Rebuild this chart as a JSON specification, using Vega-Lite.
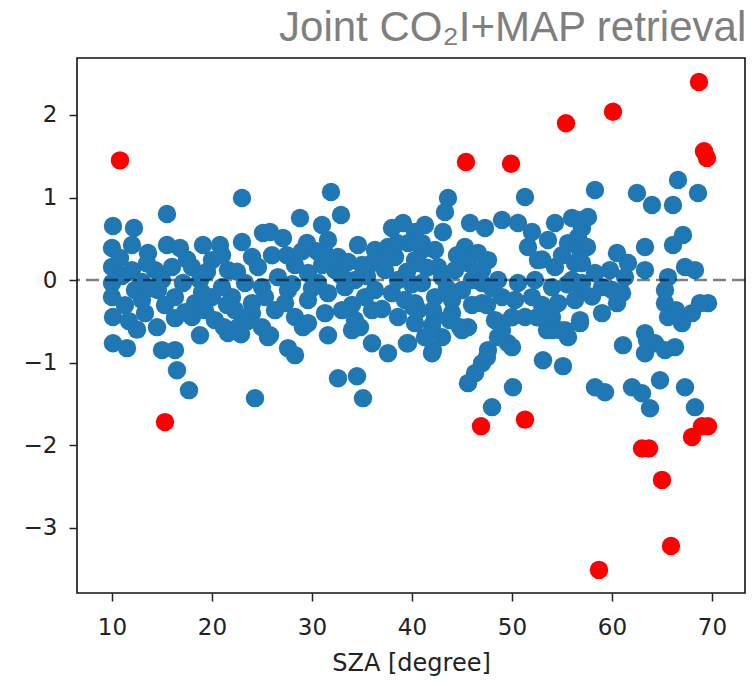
{
  "$schema": "https://vega.github.io/schema/vega-lite/v6.json",
  "width": 668,
  "height": 535,
  "autosize": {"type": "none"},
  "padding": {"left": 77, "top": 58, "right": 8, "bottom": 89},
  "background": "white",
  "title": {"text": "Joint CO₂I+MAP retrieval", "anchor": "end", "font": "Liberation Sans", "fontSize": 42, "fontWeight": "normal", "color": "#7f7f7f", "offset": 8},
  "config": {
    "view": {"stroke": "#111", "strokeWidth": 1.6},
    "axis": {"grid": false, "domain": false, "tickColor": "#222", "tickWidth": 1.5, "tickSize": 8, "labelFont": "DejaVu Sans", "labelFontSize": 23, "labelColor": "#222", "titleFont": "DejaVu Sans", "titleFontSize": 24, "titleFontWeight": "normal", "titleColor": "#222"}
  },
  "datasets": {
    "blue": [
      {"sza":10.1,"delta":0.655},{"sza":12.2,"delta":0.630},{"sza":15.5,"delta":0.800},{"sza":23.0,"delta":0.994},{"sza":25.1,"delta":0.570},
      {"sza":10.0,"delta":0.388},{"sza":12.0,"delta":0.424},{"sza":13.6,"delta":0.327},{"sza":15.5,"delta":0.424},{"sza":16.8,"delta":0.388},
      {"sza":19.1,"delta":0.424},{"sza":20.8,"delta":0.424},{"sza":23.0,"delta":0.461},{"sza":24.0,"delta":0.279},{"sza":10.0,"delta":0.158},
      {"sza":10.0,"delta":-0.036},{"sza":12.0,"delta":0.121},{"sza":12.3,"delta":-0.121},{"sza":14.3,"delta":0.121},{"sza":16.0,"delta":0.158},
      {"sza":18.0,"delta":0.158},{"sza":20.0,"delta":0.242},{"sza":21.6,"delta":0.121},{"sza":23.3,"delta":-0.036},{"sza":25.0,"delta":-0.085},
      {"sza":14.6,"delta":-0.121},{"sza":10.0,"delta":-0.206},{"sza":13.0,"delta":-0.242},{"sza":16.3,"delta":-0.206},{"sza":18.3,"delta":-0.279},
      {"sza":20.0,"delta":-0.206},{"sza":22.0,"delta":-0.206},{"sza":24.0,"delta":-0.279},{"sza":10.1,"delta":-0.448},{"sza":11.7,"delta":-0.497},
      {"sza":13.3,"delta":-0.400},{"sza":14.5,"delta":-0.570},{"sza":16.3,"delta":-0.461},{"sza":18.0,"delta":-0.448},{"sza":20.3,"delta":-0.485},
      {"sza":21.2,"delta":-0.570},{"sza":22.6,"delta":-0.570},{"sza":24.0,"delta":-0.400},{"sza":25.0,"delta":-0.570},{"sza":21.6,"delta":-0.642},
      {"sza":22.9,"delta":-0.655},{"sza":18.8,"delta":-0.667},{"sza":10.1,"delta":-0.764},{"sza":11.5,"delta":-0.824},{"sza":15.0,"delta":-0.848},
      {"sza":16.3,"delta":-0.848},{"sza":16.5,"delta":-1.091},{"sza":17.7,"delta":-1.333},{"sza":24.3,"delta":-1.430},{"sza":25.8,"delta":-0.667},
      {"sza":10.8,"delta":0.267},{"sza":13.0,"delta":-0.024},{"sza":17.1,"delta":-0.036},{"sza":18.8,"delta":0.0},{"sza":21.0,"delta":-0.085},
      {"sza":11.3,"delta":-0.303},{"sza":15.3,"delta":-0.303},{"sza":17.3,"delta":-0.388},{"sza":19.3,"delta":-0.364},{"sza":22.3,"delta":-0.364},
      {"sza":31.9,"delta":1.067},{"sza":32.9,"delta":0.788},{"sza":28.8,"delta":0.752},{"sza":31.0,"delta":0.667},{"sza":25.8,"delta":0.582},
      {"sza":27.1,"delta":0.509},{"sza":34.6,"delta":0.424},{"sza":38.0,"delta":0.630},{"sza":39.1,"delta":0.691},{"sza":40.3,"delta":0.582},
      {"sza":31.6,"delta":0.485},{"sza":31.3,"delta":0.327},{"sza":32.6,"delta":0.279},{"sza":36.3,"delta":0.364},{"sza":37.6,"delta":0.400},
      {"sza":39.6,"delta":0.448},{"sza":41.0,"delta":0.364},{"sza":36.0,"delta":0.206},{"sza":38.3,"delta":0.279},{"sza":40.3,"delta":0.242},
      {"sza":24.6,"delta":0.158},{"sza":28.3,"delta":0.182},{"sza":26.6,"delta":0.036},{"sza":29.6,"delta":0.085},{"sza":32.3,"delta":0.121},
      {"sza":34.3,"delta":0.0},{"sza":37.3,"delta":0.121},{"sza":25.3,"delta":-0.206},{"sza":27.6,"delta":-0.121},{"sza":29.6,"delta":-0.242},
      {"sza":31.6,"delta":-0.158},{"sza":33.3,"delta":-0.085},{"sza":35.3,"delta":-0.206},{"sza":36.3,"delta":-0.121},{"sza":38.0,"delta":-0.158},
      {"sza":40.3,"delta":-0.279},{"sza":26.3,"delta":-0.364},{"sza":28.3,"delta":-0.448},{"sza":29.6,"delta":-0.521},{"sza":31.3,"delta":-0.400},
      {"sza":33.0,"delta":-0.364},{"sza":34.3,"delta":-0.485},{"sza":36.0,"delta":-0.364},{"sza":38.6,"delta":-0.448},{"sza":40.3,"delta":-0.521},
      {"sza":25.6,"delta":-0.691},{"sza":31.6,"delta":-0.667},{"sza":34.0,"delta":-0.606},{"sza":36.0,"delta":-0.764},{"sza":37.6,"delta":-0.885},
      {"sza":39.6,"delta":-0.764},{"sza":27.6,"delta":-0.824},{"sza":28.3,"delta":-0.909},{"sza":32.6,"delta":-1.188},{"sza":34.5,"delta":-1.164},
      {"sza":35.1,"delta":-1.430},{"sza":29.1,"delta":-0.570},{"sza":34.8,"delta":-0.570},{"sza":30.6,"delta":-0.036},{"sza":27.3,"delta":-0.279},
      {"sza":38.6,"delta":0.0},{"sza":39.3,"delta":-0.242},{"sza":35.0,"delta":0.182},{"sza":33.6,"delta":0.218},{"sza":31.0,"delta":0.182},
      {"sza":43.6,"delta":0.994},{"sza":43.3,"delta":0.824},{"sza":51.3,"delta":1.006},{"sza":41.3,"delta":0.667},{"sza":43.1,"delta":0.582},
      {"sza":45.8,"delta":0.691},{"sza":47.3,"delta":0.630},{"sza":49.0,"delta":0.727},{"sza":50.6,"delta":0.691},{"sza":52.0,"delta":0.582},
      {"sza":54.3,"delta":0.691},{"sza":56.0,"delta":0.752},{"sza":57.0,"delta":0.630},{"sza":41.0,"delta":0.448},{"sza":42.3,"delta":0.364},
      {"sza":45.3,"delta":0.400},{"sza":46.6,"delta":0.327},{"sza":51.6,"delta":0.400},{"sza":53.6,"delta":0.485},{"sza":55.6,"delta":0.448},
      {"sza":40.6,"delta":0.206},{"sza":42.6,"delta":0.158},{"sza":44.3,"delta":0.121},{"sza":45.6,"delta":0.206},{"sza":47.0,"delta":0.121},
      {"sza":47.6,"delta":0.242},{"sza":52.6,"delta":0.242},{"sza":54.3,"delta":0.158},{"sza":56.3,"delta":0.206},{"sza":41.0,"delta":-0.036},
      {"sza":43.0,"delta":0.036},{"sza":45.0,"delta":-0.121},{"sza":47.0,"delta":-0.036},{"sza":48.6,"delta":0.0},{"sza":50.6,"delta":-0.036},
      {"sza":52.3,"delta":0.0},{"sza":54.0,"delta":-0.085},{"sza":56.0,"delta":0.0},{"sza":57.0,"delta":-0.121},{"sza":42.3,"delta":-0.206},
      {"sza":44.0,"delta":-0.242},{"sza":47.0,"delta":-0.279},{"sza":49.0,"delta":-0.206},{"sza":50.3,"delta":-0.242},{"sza":52.0,"delta":-0.206},
      {"sza":54.6,"delta":-0.279},{"sza":56.3,"delta":-0.242},{"sza":40.6,"delta":-0.364},{"sza":42.3,"delta":-0.448},{"sza":44.0,"delta":-0.400},
      {"sza":45.6,"delta":-0.570},{"sza":48.3,"delta":-0.485},{"sza":51.3,"delta":-0.448},{"sza":54.0,"delta":-0.448},{"sza":55.3,"delta":-0.606},
      {"sza":56.8,"delta":-0.485},{"sza":41.3,"delta":-0.691},{"sza":43.0,"delta":-0.691},{"sza":45.0,"delta":-0.606},{"sza":49.0,"delta":-0.606},
      {"sza":49.6,"delta":-0.764},{"sza":54.0,"delta":-0.606},{"sza":55.6,"delta":-0.691},{"sza":42.0,"delta":-0.885},{"sza":47.6,"delta":-0.848},
      {"sza":47.0,"delta":-1.006},{"sza":46.3,"delta":-1.127},{"sza":45.6,"delta":-1.248},{"sza":48.6,"delta":-0.691},{"sza":50.0,"delta":-0.812},
      {"sza":53.1,"delta":-0.970},{"sza":55.1,"delta":-1.042},{"sza":50.1,"delta":-1.297},{"sza":48.0,"delta":-1.539},{"sza":40.1,"delta":-0.327},
      {"sza":42.1,"delta":-0.364},{"sza":43.8,"delta":-0.485},{"sza":44.8,"delta":-0.570},{"sza":39.5,"delta":-0.764},{"sza":42.1,"delta":-0.848},
      {"sza":47.5,"delta":-0.303},{"sza":48.8,"delta":-0.521},{"sza":47.5,"delta":-0.933},{"sza":53.5,"delta":-0.606},{"sza":54.8,"delta":-0.606},
      {"sza":56.8,"delta":-0.521},{"sza":59.0,"delta":-0.400},{"sza":60.5,"delta":-0.279},{"sza":58.3,"delta":1.091},{"sza":62.5,"delta":1.055},
      {"sza":64.0,"delta":0.909},{"sza":66.6,"delta":1.212},{"sza":68.6,"delta":1.055},{"sza":66.1,"delta":0.909},{"sza":57.6,"delta":0.764},
      {"sza":56.6,"delta":0.727},{"sza":67.1,"delta":0.545},{"sza":66.1,"delta":0.424},{"sza":63.3,"delta":0.400},{"sza":56.6,"delta":0.521},
      {"sza":56.8,"delta":0.364},{"sza":60.5,"delta":0.327},{"sza":61.6,"delta":0.206},{"sza":61.3,"delta":0.036},{"sza":61.0,"delta":-0.158},
      {"sza":63.3,"delta":0.121},{"sza":57.0,"delta":0.206},{"sza":58.3,"delta":0.085},{"sza":59.0,"delta":-0.085},{"sza":57.0,"delta":-0.036},
      {"sza":65.6,"delta":0.036},{"sza":67.3,"delta":0.158},{"sza":68.3,"delta":0.121},{"sza":65.3,"delta":-0.121},{"sza":65.3,"delta":-0.279},
      {"sza":65.6,"delta":-0.448},{"sza":67.0,"delta":-0.521},{"sza":68.0,"delta":-0.400},{"sza":69.6,"delta":-0.279},{"sza":68.8,"delta":-0.279},
      {"sza":66.4,"delta":-0.364},{"sza":63.3,"delta":-0.642},{"sza":64.3,"delta":-0.764},{"sza":63.3,"delta":-0.885},{"sza":65.3,"delta":-0.848},
      {"sza":66.3,"delta":-0.812},{"sza":61.1,"delta":-0.788},{"sza":58.3,"delta":-1.297},{"sza":59.3,"delta":-1.358},{"sza":62.0,"delta":-1.297},
      {"sza":63.0,"delta":-1.370},{"sza":63.8,"delta":-1.552},{"sza":64.8,"delta":-1.212},{"sza":67.3,"delta":-1.297},{"sza":68.3,"delta":-1.539},
      {"sza":63.5,"delta":-0.727},{"sza":59.8,"delta":0.121},{"sza":60.0,"delta":-0.121},
      {"sza":11.0,"delta":0.05},{"sza":13.5,"delta":0.2},{"sza":14.0,"delta":-0.1},{"sza":15.0,"delta":0.0},{"sza":17.5,"delta":0.25},
      {"sza":19.5,"delta":0.1},{"sza":21.0,"delta":0.3},{"sza":22.5,"delta":0.1},{"sza":19.0,"delta":-0.15},{"sza":21.5,"delta":-0.3},
      {"sza":23.5,"delta":-0.5},{"sza":12.5,"delta":-0.6},{"sza":26.0,"delta":0.3},{"sza":27.5,"delta":0.3},{"sza":29.0,"delta":0.35},
      {"sza":28.0,"delta":-0.05},{"sza":30.0,"delta":-0.1},{"sza":29.5,"delta":0.45},{"sza":30.5,"delta":0.35},{"sza":33.0,"delta":0.05},
      {"sza":34.0,"delta":-0.3},{"sza":35.5,"delta":0.05},{"sza":37.0,"delta":-0.35},{"sza":37.5,"delta":0.3},{"sza":38.5,"delta":0.45},
      {"sza":39.5,"delta":0.1},{"sza":40.0,"delta":-0.05},{"sza":40.5,"delta":0.45},{"sza":41.5,"delta":0.15},{"sza":42.0,"delta":-0.55},
      {"sza":43.5,"delta":-0.1},{"sza":44.5,"delta":0.3},{"sza":46.0,"delta":0.0},{"sza":46.0,"delta":-0.3},{"sza":48.0,"delta":-0.1},
      {"sza":50.0,"delta":-0.45},{"sza":52.5,"delta":-0.45},{"sza":53.0,"delta":0.25},{"sza":53.0,"delta":-0.3},{"sza":55.0,"delta":0.3},
      {"sza":55.5,"delta":-0.05},{"sza":57.5,"delta":0.4},{"sza":58.0,"delta":-0.2}
    ],
    "red": [
      {"sza":10.8,"delta":1.45},{"sza":15.3,"delta":-1.72},{"sza":45.4,"delta":1.43},{"sza":49.9,"delta":1.41},{"sza":55.4,"delta":1.90},
      {"sza":60.1,"delta":2.04},{"sza":68.7,"delta":2.40},{"sza":69.2,"delta":1.56},{"sza":69.5,"delta":1.48},{"sza":46.9,"delta":-1.77},
      {"sza":51.3,"delta":-1.69},{"sza":63.0,"delta":-2.04},{"sza":63.7,"delta":-2.04},{"sza":65.0,"delta":-2.42},{"sza":65.9,"delta":-3.22},
      {"sza":58.7,"delta":-3.51},{"sza":68.0,"delta":-1.90},{"sza":69.0,"delta":-1.77},{"sza":69.6,"delta":-1.77}
    ]
  },
  "encoding": {
    "x": {"field": "sza", "type": "quantitative", "scale": {"domain": [6.5, 73.3], "nice": false, "zero": false}, "axis": {"values": [10, 20, 30, 40, 50, 60, 70], "title": "SZA [degree]", "labelPadding": 15, "titlePadding": 12}},
    "y": {"field": "delta", "type": "quantitative", "scale": {"domain": [-3.79, 2.69], "nice": false, "zero": false}, "axis": {"values": [-3, -2, -1, 0, 1, 2], "title": null, "labelPadding": 12}}
  },
  "layer": [
    {"data": {"name": "blue"}, "mark": {"type": "circle", "size": 340, "color": "#1f77b4", "opacity": 1}},
    {"data": {"name": "red"}, "mark": {"type": "circle", "size": 340, "color": "#ff0000", "opacity": 1}},
    {"data": {"values": [{"ref": 0}]}, "mark": {"type": "rule", "color": "#000", "opacity": 0.5, "strokeWidth": 2.5, "strokeDash": [13, 6]}, "encoding": {"x": null, "y": {"field": "ref", "type": "quantitative"}}}
  ]
}
